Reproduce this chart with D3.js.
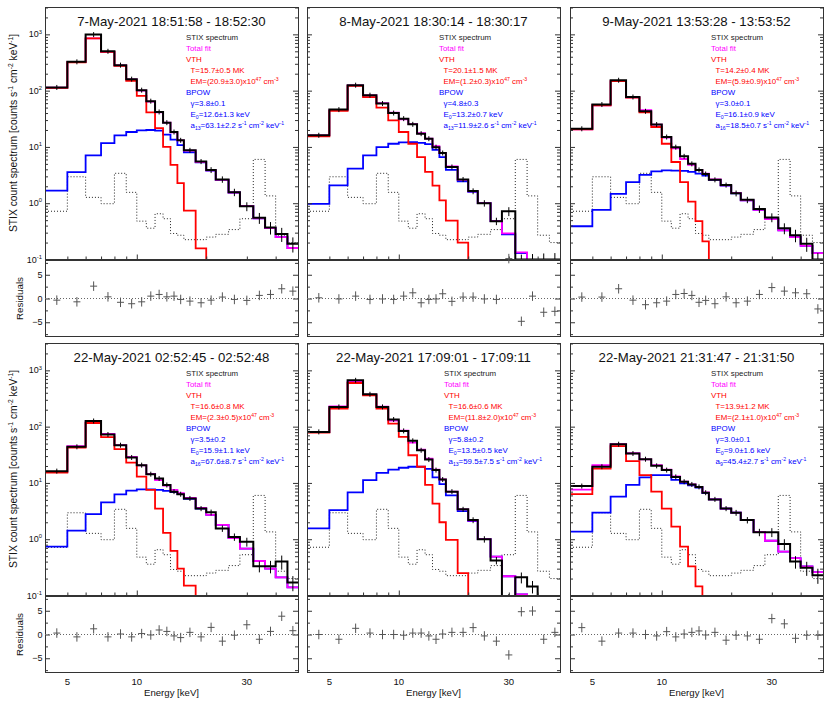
<!DOCTYPE html>
<html>
<head>
<meta charset="utf-8">
<script src="https://cdn.jsdelivr.net/npm/d3@7"></script>
<style>
  body { margin: 0; background: #fff; }
  svg { display: block; font-family: "Liberation Sans", Arial, Helvetica, sans-serif; }
</style>
</head>
<body>
<svg id="chart" width="831" height="706"></svg>
<script>
// STIX energy bin edges (keV), same for every panel
const edges = [4, 5, 6, 7, 8, 9, 10, 11, 12, 13, 14, 15, 16, 18, 20, 22, 25, 28, 32, 36, 40, 45, 50];
// background spectrum (dotted), same in all panels
const background = [0.72, 2.95, 1.27, 0.98, 3.4, 1.56, 0.48, 0.36, 0.65, 0.53, 0.29, 0.27, 0.225, 0.225, 0.25, 0.28, 0.34, 0.53, 6.0, 1.35, 0.27, 0.2];
// relative error on the measured counts
const relErr = [0.02, 0.02, 0.02, 0.02, 0.02, 0.03, 0.03, 0.04, 0.05, 0.06, 0.07, 0.08, 0.08, 0.1, 0.12, 0.13, 0.15, 0.18, 0.22, 0.25, 0.28, 0.3];

const titles = [
  "7-May-2021 18:51:58 - 18:52:30",
  "8-May-2021 18:30:14 - 18:30:17",
  "9-May-2021 13:53:28 - 13:53:52",
  "22-May-2021 02:52:45 - 02:52:48",
  "22-May-2021 17:09:01 - 17:09:11",
  "22-May-2021 21:31:47 - 21:31:50"
];
const vthText = [
  ["T=15.7±0.5 MK", "EM=(20.9±3.0)x10^{47} cm^{-3}"],
  ["T=20.1±1.5 MK", "EM=(1.2±0.3)x10^{47} cm^{-3}"],
  ["T=14.2±0.4 MK", "EM=(5.9±0.9)x10^{47} cm^{-3}"],
  ["T=16.6±0.8 MK", "EM=(2.3±0.5)x10^{47} cm^{-3}"],
  ["T=16.6±0.6 MK", "EM=(11.8±2.0)x10^{47} cm^{-3}"],
  ["T=13.9±1.2 MK", "EM=(2.1±1.0)x10^{47} cm^{-3}"]
];
const bpowText = [
  ["γ=3.8±0.1", "E_{0}=12.6±1.3 keV", "a_{13}=63.1±2.2 s^{-1} cm^{-2} keV^{-1}"],
  ["γ=4.8±0.3", "E_{0}=13.2±0.7 keV", "a_{13}=11.9±2.6 s^{-1} cm^{-2} keV^{-1}"],
  ["γ=3.0±0.1", "E_{0}=16.1±0.9 keV", "a_{16}=18.5±0.7 s^{-1} cm^{-2} keV^{-1}"],
  ["γ=3.5±0.2", "E_{0}=15.9±1.1 keV", "a_{16}=67.6±8.7 s^{-1} cm^{-2} keV^{-1}"],
  ["γ=5.8±0.2", "E_{0}=13.5±0.5 keV", "a_{13}=59.5±7.5 s^{-1} cm^{-2} keV^{-1}"],
  ["γ=3.0±0.1", "E_{0}=9.0±1.6 keV", "a_{9}=45.4±2.7 s^{-1} cm^{-2} keV^{-1}"]
];

// panel 1
const p1Data = [114, 325, 990, 500, 284, 160, 102, 65, 41.8, 27, 18.4, 13.1, 8.7, 5.5, 3.9, 2.65, 1.57, 0.88, 0.55, 0.37, 0.285, 0.19];
const p1Fit = [113, 320, 850, 490, 280, 158, 100, 64, 41, 27, 18.2, 13.1, 8.6, 5.4, 3.85, 2.6, 1.55, 0.9, 0.54, 0.36, 0.25, 0.16];
const p1Vth = [112, 318, 850, 490, 276, 150, 80.5, 41, 21.5, 10, 4.8, 2.27, 0.74, 0.157, 0.03];
const p1Bpow = [1.68, 3.57, 7.1, 11.7, 16.1, 18.4, 19.7, 20, 19.5, 16.5, 13.5, 10.8, 8, 5.3, 3.8, 2.6, 1.55, 0.9, 0.54, 0.36, 0.25, 0.16];
const p1Resid = [-0.35, -0.7, 2.6, 0.35, -0.8, -1.1, -0.7, 0.5, 0.85, 0.35, 0.5, -0.2, -0.55, -0.9, -0.35, 0.3, -0.2, -0.4, 0.65, 0.85, 2.05, 1.55];
// panel 2
const p2Data = [16.1, 46, 125, 83, 59, 40, 31.8, 25.2, 17.2, 14, 9.9, 7.8, 4.4, 2.64, 1.64, 1.0, 0.48, 0.72, 0.1, 0.1, 0.1, 0.1];
const p2Fit = [16, 45, 124, 82, 60, 40.5, 31, 25.5, 17.5, 14, 10.3, 7.8, 4.5, 2.6, 1.62, 1.0, 0.48, 0.29, 0.134, 0.03];
const p2Vth = [15.4, 43.6, 122, 77, 50, 29.7, 18.4, 11.4, 6.6, 3.6, 2.06, 1.12, 0.49, 0.2, 0.03];
const p2Bpow = [0.97, 2.07, 4.1, 7.1, 9.9, 11.4, 12, 12.2, 11.8, 11.2, 8.9, 6.6, 3.9, 2.45, 1.6, 1.0, 0.48, 0.28, 0.13, 0.03];
const p2Resid = [0.15, -0.1, 0.5, -0.2, -0.1, -0.2, 0.5, 1.2, -0.9, -0.2, -0.1, 1.0, -0.6, 0.3, 0.3, -0.1, -0.2, 8.4, -4.8, 0.5, -2.9, -2.7];
// panel 3
const p3Data = [21, 56.6, 153, 77, 43, 25, 15, 9.9, 6.8, 5.0, 3.9, 3.3, 2.6, 2.1, 1.5, 1.15, 0.79, 0.56, 0.36, 0.27, 0.19, 0.1];
const p3Fit = [20.5, 55, 147, 76, 45, 25, 14.6, 9.4, 6.1, 4.8, 3.9, 3.35, 2.65, 2.08, 1.52, 1.13, 0.76, 0.52, 0.33, 0.25, 0.175, 0.13];
const p3Vth = [20.5, 55, 147, 75, 41, 22.6, 11.4, 5.4, 2.37, 1.07, 0.48, 0.21, 0.03];
const p3Bpow = [0.39, 0.76, 1.47, 2.37, 3.2, 3.67, 3.82, 3.8, 3.75, 3.6, 3.35, 3.1, 2.6, 2.05, 1.5, 1.12, 0.76, 0.52, 0.33, 0.25, 0.175, 0.13];
const p3Resid = [0.3, 0.3, 2.05, -0.35, -1.3, -0.9, -0.55, 0.85, 1.05, 0.65, -0.8, -0.4, -1.1, 0.35, -0.9, -0.55, 0.85, 2.3, 1.55, 1.2, 1.0, -2.2];
// panel 4
const p4Data = [16.2, 43.8, 126, 72.5, 46.8, 28.3, 20.7, 14.3, 12.0, 9.2, 7.0, 6.3, 5.3, 3.5, 3.0, 1.55, 1.1, 0.9, 0.33, 0.33, 0.4, 0.17];
const p4Fit = [15.5, 45, 120, 74, 47, 29, 20.5, 14.5, 11.2, 9.0, 7.5, 6.6, 5.4, 3.6, 2.7, 1.8, 1.05, 0.68, 0.41, 0.3, 0.21, 0.14];
const p4Vth = [15.3, 42.5, 116, 65, 40, 23, 12.9, 7.5, 3.5, 1.3, 0.62, 0.3, 0.15, 0.02];
const p4Bpow = [0.74, 1.42, 2.8, 4.5, 6.25, 7.3, 7.7, 7.7, 7.5, 7.2, 6.9, 6.3, 5.2, 3.5, 2.7, 1.8, 1.05, 0.68, 0.41, 0.3, 0.21, 0.14];
const p4Resid = [0.3, -0.5, 1.2, -0.5, 0.1, -0.5, 0.2, -0.1, 0.95, 0.65, -0.3, -0.65, 0.45, -0.5, 1.5, -1.4, -0.15, 2.05, -1.0, 0.65, 3.85, 0.8];
// panel 5
const p5Data = [80.7, 224, 665, 376, 224, 134, 84, 56, 38, 26, 16.9, 11.5, 7.0, 3.4, 2.19, 1.0, 0.42, 0.09, 0.21, 0.145, 0.05, 0.05];
const p5Fit = [80, 230, 630, 370, 226, 128, 85, 52, 39, 27, 17.3, 11.5, 7.0, 3.4, 2.15, 1.0, 0.49, 0.22, 0.105, 0.05, 0.02, 0.01];
const p5Vth = [78, 210, 596, 360, 210, 113, 66, 31, 19.4, 9.2, 4.3, 2.0, 0.97, 0.25, 0.02];
const p5Bpow = [1.56, 3.3, 6.8, 11.2, 15.1, 17.3, 18.6, 19.4, 19.4, 17.7, 12.6, 9.5, 6.0, 3.15, 2.1, 1.0, 0.49, 0.22, 0.105, 0.05, 0.02, 0.01];
const p5Resid = [0, -1.0, 1.3, 0.3, 0, 0, -0.15, 0.3, 0.3, -0.3, -1.0, 0.1, 0.45, 0.45, 1.45, -0.3, -1.4, -4.3, 4.8, 4.95, -1.0, 0.45];
// panel 6
const p6Data = [8.8, 19.4, 48.7, 33.3, 26.4, 20.1, 16.9, 12.8, 10.5, 9.4, 8.5, 6.7, 5.1, 3.5, 2.96, 2.19, 1.33, 1.33, 0.82, 0.4, 0.31, 0.23];
const p6Fit = [7.6, 20.7, 48.7, 33.7, 26.3, 20.8, 17.3, 13, 10.5, 9.4, 8.4, 6.8, 5.1, 3.5, 2.96, 2.2, 1.35, 0.94, 0.6, 0.46, 0.33, 0.26];
const p6Vth = [6.3, 18, 45, 24.4, 13.8, 7.0, 3.5, 1.67, 0.74, 0.33, 0.145, 0.02];
const p6Bpow = [1.36, 2.96, 5.7, 9.2, 12.5, 13.8, 13.8, 11.3, 9.8, 9.1, 8.3, 6.6, 5.1, 3.5, 2.96, 2.19, 1.35, 0.94, 0.6, 0.46, 0.33, 0.26];
const p6Resid = [1.45, -1.4, 0.3, 0.3, 0, -0.3, 0.6, -0.5, 0.1, 0.45, 0.75, -0.1, 0.45, -1.2, -0.15, -0.3, -1.0, 3.35, 2.25, -0.8, -0.15, -0.15];

const panels = [
  { data: p1Data, fit: p1Fit, vth: p1Vth, bpow: p1Bpow, resid: p1Resid },
  { data: p2Data, fit: p2Fit, vth: p2Vth, bpow: p2Bpow, resid: p2Resid },
  { data: p3Data, fit: p3Fit, vth: p3Vth, bpow: p3Bpow, resid: p3Resid },
  { data: p4Data, fit: p4Fit, vth: p4Vth, bpow: p4Bpow, resid: p4Resid },
  { data: p5Data, fit: p5Fit, vth: p5Vth, bpow: p5Bpow, resid: p5Resid },
  { data: p6Data, fit: p6Fit, vth: p6Vth, bpow: p6Bpow, resid: p6Resid }
];

// layout
const colLeft = [45, 307, 570];
const plotW = 253;
const rowOff = [0, 336];
const legendDx = [141, 132, 141, 141, 137, 141];
const frameColor = "#333";

const svg = d3.select("#chart");

// text with ^{sup} and _{sub} parts
function richText(sel, str, fs) {
  const parts = str.split(/(\^\{[^}]*\}|_\{[^}]*\})/).filter(s => s.length);
  let shift = 0;
  parts.forEach(s => {
    let target = 0, size = fs, txt = s;
    if (s[0] === "^") { target = -fs * 0.42; size = fs * 0.65; txt = s.slice(2, -1); }
    else if (s[0] === "_") { target = fs * 0.22; size = fs * 0.65; txt = s.slice(2, -1); }
    sel.append("tspan").attr("dy", target - shift).attr("font-size", size).text(txt);
    shift = target;
  });
  return sel;
}

// tick values
const decades = [0.1, 1, 10, 100, 1000];
const yMinor = [];
for (let e = -1; e <= 3; e++) for (let k = 2; k <= 9; k++) { const v = k * Math.pow(10, e); if (v <= 3000) yMinor.push(v); }
const xMajor = [10];
const xMinor = [4, 5, 6, 7, 8, 9, 20, 30, 40, 50];
const xLabels = [5, 10, 30];
const rMajor = [-5, 0, 5];
const rMinor = [-7.5, -2.5, 2.5, 7.5];

function tickAxis(g, axis, tx, ty) {
  const a = g.append("g").attr("transform", `translate(${tx},${ty})`).call(axis);
  a.select(".domain").remove();
  a.selectAll("line").attr("stroke", frameColor);
  a.selectAll("text").remove();
}

panels.forEach((p, i) => {
  const col = i % 3, row = Math.floor(i / 3);
  const x0 = colLeft[col], x1 = x0 + plotW, off = rowOff[row];
  const mTop = 7.5 + off, mBot = 259.5 + off;
  const rTop = 260.5 + off, rBot = 336.5 + off;

  const x = d3.scaleLog().domain([4, 50]).range([x0, x1]);
  const y = d3.scaleLog().domain([0.1, 3000]).range([mBot, mTop]);
  const yr = d3.scaleLinear().domain([-8, 8]).range([rBot, rTop]);

  const g = svg.append("g");
  const clipId = "clip" + i;
  svg.append("clipPath").attr("id", clipId).append("rect")
    .attr("x", x0).attr("y", mTop).attr("width", plotW).attr("height", mBot - mTop + 1);

  const step = vals => {
    const pts = vals.map((v, j) => [edges[j], v]);
    pts.push([edges[vals.length], vals[vals.length - 1]]);
    return d3.line().x(d => x(d[0])).y(d => y(d[1])).curve(d3.curveStepAfter)(pts);
  };

  const plot = g.append("g").attr("clip-path", `url(#${clipId})`);
  plot.append("path").attr("d", step(background)).attr("fill", "none")
    .attr("stroke", "#222").attr("stroke-width", 1).attr("stroke-dasharray", "1,2");
  plot.append("path").attr("d", step(p.bpow)).attr("fill", "none").attr("stroke", "#0000ff").attr("stroke-width", 1.8);
  plot.append("path").attr("d", step(p.fit)).attr("fill", "none").attr("stroke", "#ff00ff").attr("stroke-width", 1.8);
  plot.append("path").attr("d", step(p.vth)).attr("fill", "none").attr("stroke", "#ff0000").attr("stroke-width", 1.8);
  plot.append("path").attr("d", step(p.data)).attr("fill", "none").attr("stroke", "#000").attr("stroke-width", 2);

  // error ticks on the measured spectrum
  plot.selectAll(".err").data(p.data).enter().append("line")
    .attr("x1", (d, j) => x((edges[j] + edges[j + 1]) / 2))
    .attr("x2", (d, j) => x((edges[j] + edges[j + 1]) / 2))
    .attr("y1", (d, j) => Math.min(y(d * (1 + relErr[j])), y(d) - 2.5))
    .attr("y2", (d, j) => Math.max(y(d * (1 - relErr[j])), y(d) + 2.5))
    .attr("stroke", "#000").attr("stroke-width", 1);

  // frames
  g.append("rect").attr("x", x0 + 0.5).attr("y", mTop).attr("width", plotW).attr("height", mBot - mTop)
    .attr("fill", "none").attr("stroke", frameColor).attr("stroke-width", 1);
  g.append("rect").attr("x", x0 + 0.5).attr("y", rTop).attr("width", plotW).attr("height", rBot - rTop)
    .attr("fill", "none").attr("stroke", frameColor).attr("stroke-width", 1);

  // ticks, inside the frame
  tickAxis(g, d3.axisLeft(y).tickValues(decades).tickSize(-5), x0, 0);
  tickAxis(g, d3.axisLeft(y).tickValues(yMinor).tickSize(-3), x0, 0);
  tickAxis(g, d3.axisRight(y).tickValues(decades).tickSize(-5), x1, 0);
  tickAxis(g, d3.axisRight(y).tickValues(yMinor).tickSize(-3), x1, 0);
  tickAxis(g, d3.axisBottom(x).tickValues(xMajor).tickSize(-5), 0, mBot);
  tickAxis(g, d3.axisBottom(x).tickValues(xMinor).tickSize(-3), 0, mBot);
  tickAxis(g, d3.axisLeft(yr).tickValues(rMajor).tickSize(-5), x0, 0);
  tickAxis(g, d3.axisLeft(yr).tickValues(rMinor).tickSize(-3), x0, 0);
  tickAxis(g, d3.axisRight(yr).tickValues(rMajor).tickSize(-5), x1, 0);
  tickAxis(g, d3.axisRight(yr).tickValues(rMinor).tickSize(-3), x1, 0);

  // residuals
  g.append("line").attr("x1", x0).attr("x2", x1).attr("y1", yr(0)).attr("y2", yr(0))
    .attr("stroke", "#666").attr("stroke-width", 1).attr("stroke-dasharray", "1,2");
  const rc = g.append("g").attr("stroke", "#555").attr("stroke-width", 1);
  p.resid.forEach((r, j) => {
    const cx = x((edges[j] + edges[j + 1]) / 2);
    rc.append("line").attr("x1", cx - 3.5).attr("x2", cx + 3.5).attr("y1", yr(r)).attr("y2", yr(r));
    rc.append("line").attr("x1", cx).attr("x2", cx).attr("y1", yr(r - 1)).attr("y2", yr(r + 1));
  });

  // title
  g.append("text").attr("x", (x0 + x1) / 2).attr("y", 25.5 + off).attr("text-anchor", "middle")
    .attr("font-size", 13.2).attr("fill", "#111").text(titles[i]);

  // legend
  const lx = x0 + legendDx[i];
  const lines = [
    { t: "STIX spectrum", c: "#222", ind: 0 },
    { t: "Total fit", c: "#ff00ff", ind: 0 },
    { t: "VTH", c: "#ff0000", ind: 0 },
    { t: vthText[i][0], c: "#ff0000", ind: 1 },
    { t: vthText[i][1], c: "#ff0000", ind: 1 },
    { t: "BPOW", c: "#0000ff", ind: 0 },
    { t: bpowText[i][0], c: "#0000ff", ind: 1 },
    { t: bpowText[i][1], c: "#0000ff", ind: 1 },
    { t: bpowText[i][2], c: "#0000ff", ind: 1 }
  ];
  lines.forEach((l, k) => {
    const t = g.append("text").attr("x", lx + l.ind * 4.5).attr("y", 39.5 + off + k * 11.1)
      .attr("font-size", 7.9).attr("fill", l.c);
    richText(t, l.t, 7.9);
  });

  // y labels on the left column
  if (col === 0) {
    decades.forEach(d => {
      const t = g.append("text").attr("x", 42).attr("y", y(d) + 3).attr("text-anchor", "end")
        .attr("font-size", 9).attr("fill", "#111");
      richText(t, "10^{" + Math.round(Math.log10(d)) + "}", 9);
    });
    rMajor.forEach(v => {
      g.append("text").attr("x", 42.5).attr("y", yr(v) + 3).attr("text-anchor", "end")
        .attr("font-size", 9).attr("fill", "#111").text(v < 0 ? "\u2212" + Math.abs(v) : v);
    });
    const yl = g.append("text").attr("transform", `translate(17,${133 + off}) rotate(-90)`)
      .attr("text-anchor", "middle").attr("font-size", 10.3).attr("fill", "#111");
    richText(yl, "STIX count spectrum [counts s^{-1} cm^{-2} keV^{-1}]", 10.3);
    g.append("text").attr("transform", `translate(22.5,${yr(0)}) rotate(-90)`)
      .attr("text-anchor", "middle").attr("font-size", 9.8).attr("fill", "#111").text("Residuals");
  }

  // x labels on the bottom row
  if (row === 1) {
    xLabels.forEach(v => {
      g.append("text").attr("x", x(v)).attr("y", 685).attr("text-anchor", "middle")
        .attr("font-size", 9.6).attr("fill", "#111").text(v);
    });
    g.append("text").attr("x", (x0 + x1) / 2).attr("y", 696).attr("text-anchor", "middle")
      .attr("font-size", 9.6).attr("fill", "#111").text("Energy [keV]");
  }
});
</script>
</body>
</html>
